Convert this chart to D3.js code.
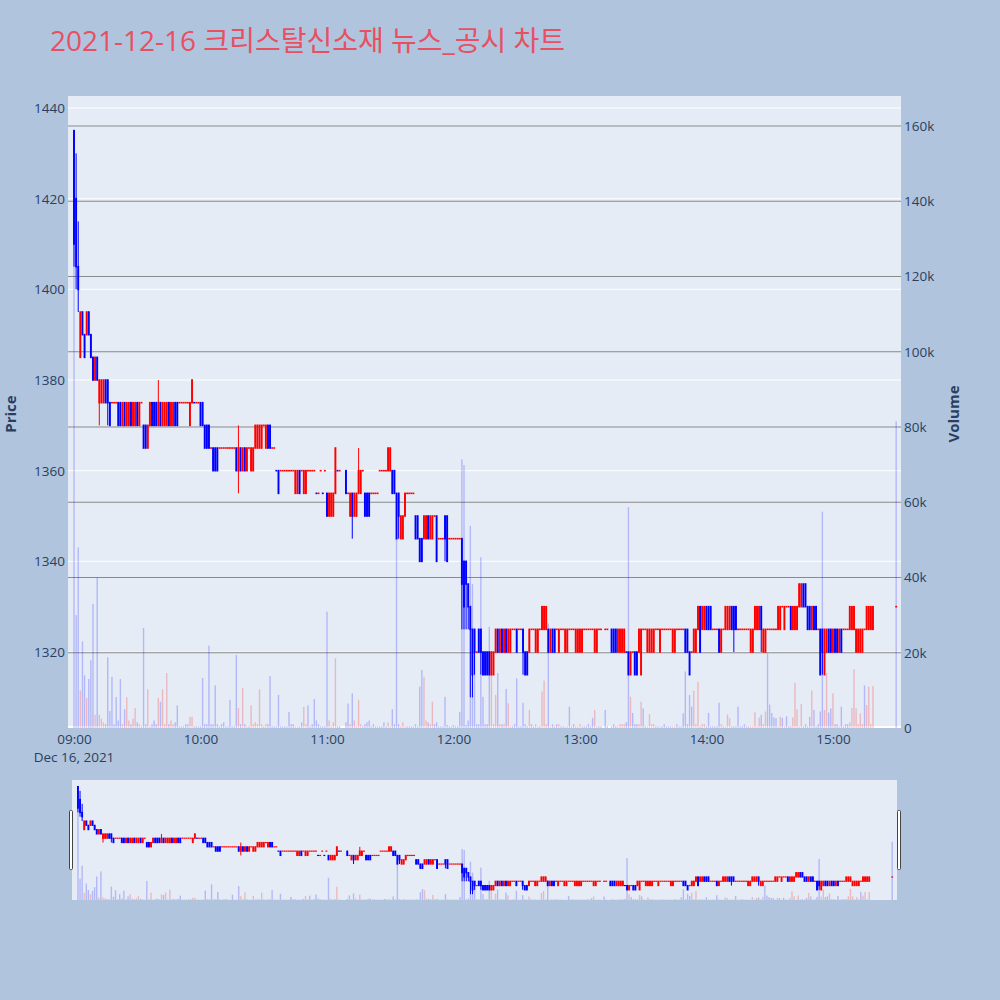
<!DOCTYPE html>
<html><head><meta charset="utf-8">
<script src="https://cdn.jsdelivr.net/npm/d3@7"></script>
<style>body{margin:0;background:#b0c4de;} svg{display:block;}</style>
</head><body>
<svg id="chart" width="1000" height="1000"></svg>
<script>
// minutes after 09:00 on 2021-12-16
const minutes = [
0,1,2,3,4,5,6,7,8,9,
10,11,12,13,14,15,16,17,18,19,
20,21,22,23,24,25,26,27,28,29,
30,31,32,33,34,35,36,37,38,39,
40,41,42,43,44,45,46,47,48,49,
50,51,52,53,54,55,56,57,58,59,
60,61,62,63,64,65,66,67,68,69,
70,71,72,73,74,75,76,77,78,79,
80,81,82,83,84,85,86,87,88,89,
90,91,92,93,94,95,96,97,98,99,
100,101,102,103,104,105,106,107,108,109,
110,111,112,113,114,115,116,117,118,119,
120,121,122,123,124,125,126,
129,130,131,132,133,134,135,136,137,138,
139,140,141,142,143,144,145,146,147,148,
149,150,151,152,153,154,155,156,157,158,
159,160,161,162,163,164,165,166,167,168,
169,170,171,172,173,174,175,176,177,178,
179,180,181,182,183,184,185,186,187,188,
189,190,191,192,193,194,195,196,197,198,
199,200,201,202,203,204,205,206,207,208,
209,210,211,212,213,214,215,216,217,218,
219,220,221,222,223,224,225,226,227,228,
229,230,231,232,233,234,235,236,237,238,
239,240,241,242,243,244,245,246,247,248,
249,250,252,253,255,256,257,258,259,260,
261,262,263,264,265,266,267,268,269,270,
271,272,273,274,275,276,277,278,279,280,
281,282,283,284,285,286,287,288,289,290,
291,292,293,294,295,296,297,298,299,300,
301,302,303,304,305,306,307,308,309,310,
311,312,313,314,315,316,317,318,319,320,
321,322,323,324,325,326,327,328,329,330,
331,332,333,334,335,336,337,338,339,340,
341,342,343,344,345,346,347,348,349,350,
351,352,353,354,355,356,357,358,359,360,
361,362,363,364,365,366,367,368,369,370,
371,372,373,374,375,376,377,378,379,390];

const openP = [
1435,1420,1405,1385,1395,1390,1390,1395,1390,1385,
1380,1385,1375,1375,1375,1380,1380,1375,1375,1375,
1375,1375,1375,1370,1375,1370,1370,1375,1370,1370,
1375,1370,1375,1370,1370,1365,1370,1375,1375,1375,
1370,1375,1370,1370,1370,1375,1370,1370,1375,1375,
1375,1375,1375,1375,1375,1370,1375,1375,1375,1375,
1375,1375,1370,1370,1370,1365,1365,1365,1365,1365,
1365,1365,1365,1365,1365,1365,1365,1365,1360,1365,
1360,1365,1360,1365,1360,1360,1365,1365,1365,1365,
1370,1365,1370,1370,1365,1365,1360,1360,1360,1360,
1360,1360,1360,1360,1360,1355,1355,1360,1360,1355,
1355,1360,1360,1360,1360,1355,1355,1360,1355,1360,
1355,1350,1350,1350,1355,1360,1360,
1360,1355,1350,1355,1350,1350,1355,1355,1360,1355,
1355,1355,1355,1355,1355,1355,1360,1360,1360,1360,
1360,1360,1360,1360,1355,1355,1345,1345,1350,1355,
1355,1355,1355,1350,1350,1345,1345,1345,1345,1350,
1345,1345,1350,1350,1345,1345,1345,1350,1350,1345,
1345,1345,1345,1345,1345,1345,1340,1340,1335,1330,
1325,1325,1320,1325,1325,1320,1320,1320,1320,1315,
1315,1320,1325,1320,1325,1320,1325,1320,1320,1325,
1325,1325,1325,1325,1325,1320,1320,1320,1325,1325,
1320,1320,1325,1325,1325,1325,1325,1320,1325,1325,
1325,1320,1325,1325,1320,1320,1325,1325,1325,1320,
1320,1320,1320,1325,1325,1325,1325,1325,1320,1320,
1325,1325,1325,1325,1325,1325,1325,1320,1320,1320,
1320,1320,1320,1315,1320,1320,1320,1320,1315,1325,
1325,1320,1320,1320,1320,1325,1325,1320,1325,1325,
1325,1325,1325,1320,1320,1325,1325,1325,1325,1325,
1325,1320,1320,1320,1320,1325,1330,1325,1325,1330,
1330,1330,1325,1325,1325,1325,1320,1325,1325,1325,
1325,1330,1330,1330,1325,1325,1325,1325,1325,1325,
1320,1320,1325,1325,1325,1330,1320,1320,1325,1325,
1325,1325,1325,1325,1325,1330,1325,1330,1330,1330,
1325,1325,1325,1330,1330,1335,1335,1330,1330,1325,
1330,1330,1325,1325,1325,1315,1320,1325,1325,1320,
1325,1325,1320,1325,1325,1325,1325,1325,1325,1325,
1320,1320,1320,1320,1325,1325,1325,1325,1325,1330];

const highP = [
1435,1430,1415,1395,1395,1390,1395,1395,1390,1385,
1385,1385,1380,1380,1380,1380,1380,1375,1375,1375,
1375,1375,1375,1375,1375,1375,1375,1375,1375,1375,
1375,1375,1375,1370,1370,1370,1375,1375,1375,1375,
1380,1375,1375,1375,1375,1375,1375,1375,1375,1375,
1375,1375,1375,1375,1375,1375,1380,1375,1375,1375,
1375,1375,1370,1370,1370,1365,1365,1365,1365,1365,
1365,1365,1365,1365,1365,1365,1365,1365,1370,1365,
1365,1365,1365,1365,1365,1365,1370,1370,1370,1370,
1370,1370,1370,1370,1365,1365,1360,1360,1360,1360,
1360,1360,1360,1360,1360,1360,1360,1360,1360,1360,
1360,1360,1360,1360,1360,1355,1355,1360,1355,1360,
1355,1355,1355,1355,1365,1360,1360,
1360,1355,1355,1355,1355,1355,1365,1360,1360,1355,
1355,1355,1355,1355,1355,1355,1360,1360,1360,1360,
1365,1365,1360,1360,1355,1355,1350,1350,1355,1355,
1355,1355,1355,1350,1350,1345,1345,1350,1350,1350,
1350,1350,1350,1350,1345,1345,1345,1350,1350,1345,
1345,1345,1345,1345,1345,1345,1340,1340,1335,1330,
1325,1325,1320,1325,1325,1320,1320,1320,1320,1320,
1320,1325,1325,1325,1325,1325,1325,1325,1325,1325,
1325,1325,1325,1325,1325,1320,1320,1325,1325,1325,
1325,1325,1325,1330,1330,1330,1325,1325,1325,1325,
1325,1325,1325,1325,1325,1325,1325,1325,1325,1325,
1325,1325,1325,1325,1325,1325,1325,1325,1325,1325,
1325,1325,1325,1325,1325,1325,1325,1325,1325,1325,
1325,1320,1320,1320,1320,1320,1320,1325,1325,1325,
1325,1325,1325,1325,1325,1325,1325,1325,1325,1325,
1325,1325,1325,1325,1325,1325,1325,1325,1325,1325,
1325,1320,1320,1325,1325,1330,1330,1330,1330,1330,
1330,1330,1325,1325,1325,1325,1325,1325,1330,1330,
1330,1330,1330,1330,1325,1325,1325,1325,1325,1325,
1325,1325,1330,1330,1330,1330,1325,1325,1325,1325,
1325,1325,1325,1330,1330,1330,1330,1330,1330,1330,
1330,1330,1330,1335,1335,1335,1335,1330,1330,1330,
1330,1330,1325,1325,1325,1325,1325,1325,1325,1325,
1325,1325,1325,1325,1325,1325,1325,1330,1330,1330,
1325,1325,1325,1325,1325,1330,1330,1330,1330,1330];

const lowP = [
1405,1400,1395,1385,1390,1385,1390,1390,1385,1380,
1380,1380,1370,1375,1375,1375,1370,1370,1375,1375,
1375,1370,1370,1370,1370,1370,1370,1370,1370,1370,
1370,1370,1375,1365,1365,1365,1370,1370,1370,1370,
1370,1370,1370,1370,1370,1370,1370,1370,1370,1370,
1375,1375,1375,1375,1375,1370,1375,1375,1375,1375,
1370,1370,1365,1365,1365,1365,1360,1360,1360,1365,
1365,1365,1365,1365,1365,1365,1365,1360,1355,1360,
1360,1360,1360,1365,1360,1360,1365,1365,1365,1365,
1370,1365,1365,1365,1365,1365,1360,1355,1360,1360,
1360,1360,1360,1360,1360,1355,1355,1355,1360,1355,
1355,1360,1360,1360,1360,1355,1355,1360,1355,1360,
1350,1350,1350,1350,1355,1360,1360,
1355,1355,1350,1345,1350,1350,1355,1355,1360,1350,
1350,1350,1355,1355,1355,1355,1360,1360,1360,1360,
1360,1360,1355,1355,1345,1345,1345,1345,1350,1355,
1355,1355,1355,1345,1345,1340,1340,1345,1345,1345,
1345,1345,1350,1340,1345,1345,1345,1340,1340,1345,
1345,1345,1345,1345,1345,1325,1325,1325,1325,1310,
1310,1315,1320,1320,1315,1315,1315,1315,1315,1315,
1315,1320,1320,1320,1320,1320,1320,1320,1320,1325,
1325,1320,1325,1325,1315,1315,1315,1320,1325,1325,
1320,1320,1325,1325,1325,1325,1320,1320,1320,1320,
1325,1320,1325,1325,1320,1320,1325,1325,1325,1320,
1320,1320,1320,1325,1325,1325,1325,1325,1320,1320,
1325,1325,1325,1325,1320,1320,1320,1320,1320,1320,
1320,1320,1315,1315,1320,1315,1315,1320,1315,1325,
1325,1320,1320,1320,1320,1325,1325,1320,1325,1325,
1325,1325,1325,1320,1320,1325,1325,1325,1325,1320,
1320,1315,1320,1320,1320,1325,1320,1325,1325,1325,
1325,1325,1325,1325,1325,1320,1320,1325,1325,1325,
1325,1325,1320,1325,1325,1325,1325,1325,1325,1325,
1320,1320,1325,1325,1325,1320,1320,1320,1325,1325,
1325,1325,1325,1325,1325,1330,1325,1330,1330,1325,
1325,1325,1325,1330,1330,1330,1330,1325,1325,1325,
1325,1325,1325,1315,1315,1315,1320,1320,1320,1320,
1320,1320,1320,1320,1325,1325,1325,1325,1325,1325,
1320,1320,1320,1320,1325,1325,1325,1325,1325,1330];

const closeP = [
1410,1405,1400,1395,1390,1385,1395,1390,1385,1380,
1385,1380,1380,1380,1380,1375,1375,1370,1375,1375,
1375,1370,1370,1375,1370,1375,1375,1370,1375,1375,
1370,1375,1375,1365,1365,1370,1375,1370,1370,1370,
1375,1370,1375,1375,1375,1370,1375,1375,1370,1370,
1375,1375,1375,1375,1375,1375,1380,1375,1375,1375,
1370,1370,1365,1365,1365,1365,1360,1360,1360,1365,
1365,1365,1365,1365,1365,1365,1365,1360,1365,1360,
1365,1360,1365,1365,1365,1365,1370,1370,1370,1370,
1370,1370,1365,1365,1365,1365,1360,1355,1360,1360,
1360,1360,1360,1360,1360,1360,1360,1355,1360,1360,
1360,1360,1360,1360,1360,1355,1355,1360,1355,1360,
1350,1355,1355,1355,1365,1360,1360,
1355,1355,1355,1350,1355,1355,1360,1360,1360,1350,
1350,1350,1355,1355,1355,1355,1360,1360,1360,1360,
1365,1365,1355,1355,1345,1350,1350,1350,1355,1355,
1355,1355,1355,1345,1345,1340,1340,1350,1350,1345,
1350,1350,1350,1340,1345,1345,1345,1345,1340,1345,
1345,1345,1345,1345,1345,1335,1330,1335,1330,1325,
1315,1320,1320,1320,1320,1315,1315,1315,1315,1320,
1320,1325,1320,1325,1320,1325,1320,1325,1325,1325,
1325,1320,1325,1325,1320,1315,1315,1325,1325,1325,
1325,1325,1325,1330,1330,1330,1320,1325,1320,1320,
1325,1325,1325,1325,1325,1325,1325,1325,1325,1325,
1325,1325,1325,1325,1325,1325,1325,1325,1325,1325,
1325,1325,1325,1325,1320,1320,1320,1325,1325,1325,
1325,1320,1315,1320,1320,1315,1315,1325,1325,1325,
1325,1325,1325,1325,1325,1325,1325,1325,1325,1325,
1325,1325,1325,1325,1325,1325,1325,1325,1325,1320,
1320,1315,1320,1325,1325,1330,1320,1330,1330,1325,
1325,1325,1325,1325,1325,1320,1325,1325,1330,1330,
1330,1325,1325,1325,1325,1325,1325,1325,1325,1325,
1325,1325,1330,1330,1330,1325,1325,1325,1325,1325,
1325,1325,1325,1330,1330,1330,1330,1330,1330,1325,
1330,1330,1330,1335,1335,1330,1330,1325,1325,1330,
1325,1325,1325,1315,1320,1325,1325,1320,1320,1325,
1320,1320,1325,1320,1325,1325,1325,1330,1330,1330,
1325,1325,1325,1325,1325,1330,1330,1330,1330,1330];

// volume in thousands of shares
const volumeK = [
159,30,48,10,23,14,8,13,18,33,
3.5,40,3.5,2.5,1.5,1,18.8,4.5,13.6,1,
8.2,2,13,1,5,8.2,2,1,2.5,5.3,
1.5,1,0.5,26.6,1,10.3,0.5,1,2,1,
8,7,10.3,1,14.6,1,2,1,1.5,6,
0.5,0.5,0.5,1,1,3,3,0.5,0.5,0.5,
0.5,13.3,1,1,21.9,1,1,11.3,1,0.5,
1,1.5,0.5,0.5,7.5,0.5,0.5,19.4,5.3,1,
10.7,1,0.5,0.5,6,1,1.5,1,10.3,1,
0.5,1,1,13.8,0.5,0.5,0.5,8.8,0.5,0.5,
0.5,0.5,4.3,1,1,0.5,0.5,0.5,1.5,5.6,
1,6,0.5,1,7.7,2,1,0.5,0.5,0.5,
30.9,2,0.5,1.5,18.5,0.5,0.5,
1.5,6.5,1,9.2,2,0.5,7.5,1,0.5,1,
1.5,2,0.5,1,0.5,0.5,0.5,0.5,1.5,0.5,
1.5,0.5,5,1,50.4,1,0.5,1.5,0.5,0.5,
0.5,0.5,0.5,1,0.5,11,15.4,13.6,2,1.5,
1,7,1,1.5,0.5,0.5,0.5,8.3,0.8,0.5,
0.5,0.8,0.5,0.5,4.3,71.4,69.9,0.8,2,53.7,
38.3,20.7,1,1,45.4,8.3,1,1,26.9,15,
1,8.8,14.6,1,1,1,10.4,6.6,0.5,0.5,
1,13.2,0.5,0.5,6.7,1,0.5,4.8,1,0.5,
1,0.5,0.5,9.7,12.6,1,27.8,0.5,1,0.5,
1,1,0.5,0.5,0.5,0.5,5.7,0.5,1,0.5,
0.5,1,0.5,0.5,0.5,1,0.5,2.7,4.8,0.5,
0.5,0.5,4.8,0.5,0.5,1,0.5,0.5,1,1,
1,1.5,58.7,8.3,4,1,1,1,7,5.2,
0.5,0.5,3.7,1,1,0.5,0.5,0.5,0.5,1,
0.5,0.5,0.5,0.5,0.5,1,0.5,0.5,3.9,15,
1,8.8,5.7,9.9,1,12.3,0.5,1,1,0.5,
4,0.5,0.5,0.5,0.5,6.7,1,0.5,0.5,3.6,
2.6,0.5,0.5,0.5,5.7,0.5,0.5,1,0.5,0.5,
0.5,0.5,4.2,0.5,2.8,3.5,1,4.4,19.9,6.2,
4,2.8,2.6,0.5,3,2.7,0.5,3.1,0.5,0.5,
2.8,12,5,0.5,6.4,0.5,1,0.5,3,10,
4.8,0.5,1,4.4,57.5,4.8,14.6,4.1,5.2,9.2,
1,1,0.5,5.7,0.5,1,1,1.5,5.3,15.6,
5.2,1,3.9,1,11.3,6.1,11,1,11.2,81.5];

const priceTicks = [1320,1340,1360,1380,1400,1420,1440];
const volumeTicks = [0,20,40,60,80,100,120,140,160];
const timeTicks = [0,60,120,180,240,300,360];
const timeTickLabels = ["09:00","10:00","11:00","12:00","13:00","14:00","15:00"];
const dateLabel = "Dec 16, 2021";
const titleText = "2021-12-16 크리스탈신소재 뉴스_공시 차트";

const FONT = "'Open Sans', 'Noto Sans CJK KR', verdana, arial, sans-serif";
const AXC = "#2a3f5f";
const UP = "#ff0000", DOWN = "#0000ff";
const TICKFS = "13.5px";

const svg = d3.select("#chart");
svg.append("rect").attr("width",1000).attr("height",1000).attr("fill","#b0c4de");

// candle direction (doji follows previous close)
let prevC = null;
const inc = closeP.map((c,i)=>{
  const o = openP[i]; let r;
  if (c > o) r = true; else if (c < o) r = false; else r = prevC === null ? false : c >= prevC;
  prevC = c; return r;
});
// volume colour: red only when close is above open
const volUp = closeP.map((c,i)=> c > openP[i]);
const idx = d3.range(minutes.length);

// ---------- main plot ----------
const P = {l:68, r:901, t:96, b:728};
const x = d3.scaleLinear().domain([-2.85, 392.3]).range([P.l, P.r]);
const yP = d3.scaleLinear().domain([1303.24, 1442.65]).range([P.b, P.t]);
const yV = d3.scaleLinear().domain([0, 167.97]).range([P.b, P.t]);

svg.append("rect").attr("x",P.l).attr("y",P.t).attr("width",P.r-P.l).attr("height",P.b-P.t).attr("fill","#e5ecf6");
const defs = svg.append("defs");
defs.append("clipPath").attr("id","clipMain").append("rect")
  .attr("x",P.l).attr("y",P.t).attr("width",P.r-P.l).attr("height",P.b-P.t);

const grid = svg.append("g");
grid.selectAll(".pg").data(priceTicks).join("line")
  .attr("x1",P.l).attr("x2",P.r).attr("y1",d=>yP(d)).attr("y2",d=>yP(d))
  .attr("stroke","#ffffff").attr("stroke-width",1);
grid.selectAll(".vg").data(volumeTicks.filter(d=>d>0)).join("line")
  .attr("x1",P.l).attr("x2",P.r).attr("y1",d=>yV(d)).attr("y2",d=>yV(d))
  .attr("stroke","#8a8a8a").attr("stroke-width",1);
grid.append("line").attr("x1",P.l).attr("x2",P.r).attr("y1",yV(0)-1).attr("y2",yV(0)-1)
  .attr("stroke","#ffffff").attr("stroke-width",2);

function drawTraces(g, xs, yp, yv, boxW, volW, minH){
  g.selectAll(".vol").data(idx).join("rect")
    .attr("x",i=>xs(minutes[i])-volW/2).attr("width",volW)
    .attr("y",i=>yv(volumeK[i])).attr("height",i=>yv(0)-yv(volumeK[i]))
    .attr("fill",i=>volUp[i]?"rgba(255,0,0,0.22)":"rgba(0,0,255,0.22)");
  g.selectAll(".wick").data(idx).join("line")
    .attr("x1",i=>xs(minutes[i])).attr("x2",i=>xs(minutes[i]))
    .attr("y1",i=>yp(highP[i])).attr("y2",i=>yp(lowP[i]))
    .attr("stroke",i=>inc[i]?UP:DOWN).attr("stroke-width",1);
  g.selectAll(".box").data(idx).join("rect")
    .attr("x",i=>xs(minutes[i])-boxW/2).attr("width",boxW)
    .attr("y",i=>yp(Math.max(openP[i],closeP[i]))-minH/2)
    .attr("height",i=>yp(Math.min(openP[i],closeP[i]))-yp(Math.max(openP[i],closeP[i]))+minH)
    .attr("fill",i=>inc[i]?UP:DOWN);
}
const traces = svg.append("g").attr("clip-path","url(#clipMain)");
drawTraces(traces, x, yP, yV, 1.9, 1.4, 1.6);

// axes
const axL = svg.append("g").attr("transform",`translate(${P.l},0)`)
  .call(d3.axisLeft(yP).tickValues(priceTicks).tickSize(0).tickPadding(3).tickFormat(d3.format("d")));
const axR = svg.append("g").attr("transform",`translate(${P.r},0)`)
  .call(d3.axisRight(yV).tickValues(volumeTicks).tickSize(0).tickPadding(3)
    .tickFormat(d=>d===0?"0":d+"k"));
const axB = svg.append("g").attr("transform",`translate(0,${P.b})`)
  .call(d3.axisBottom(x).tickValues(timeTicks).tickSize(0).tickPadding(6)
    .tickFormat((d,i)=>timeTickLabels[i]));
[axL,axR,axB].forEach(a=>{
  a.select(".domain").remove();
  a.selectAll("text").attr("fill",AXC).style("font-family",FONT).style("font-size",TICKFS);
});
svg.append("text").attr("x",x(0)).attr("y",762).attr("text-anchor","middle")
  .attr("fill",AXC).style("font-family",FONT).style("font-size",TICKFS).text(dateLabel);

svg.append("text").attr("transform","translate(16,414) rotate(-90)").attr("text-anchor","middle")
  .attr("fill",AXC).style("font-family",FONT).style("font-size","15px").style("font-weight","bold").text("Price");
svg.append("text").attr("transform","translate(959,414) rotate(-90)").attr("text-anchor","middle")
  .attr("fill",AXC).style("font-family",FONT).style("font-size","15px").style("font-weight","bold").text("Volume");

svg.append("text").attr("x",50).attr("y",51)
  .attr("fill","rgb(232,80,98)").style("font-family",FONT).style("font-size","28px").text(titleText);

// ---------- range slider ----------
const S = {l:72, r:897, t:780, b:900};
const xs = d3.scaleLinear().domain(x.domain()).range([S.l, S.r]);
const ysP = d3.scaleLinear().domain(yP.domain()).range([S.b, S.t]);
const ysV = d3.scaleLinear().domain(yV.domain()).range([S.b, S.t]);
svg.append("rect").attr("x",S.l).attr("y",S.t).attr("width",S.r-S.l).attr("height",S.b-S.t).attr("fill","#e5ecf6");
defs.append("clipPath").attr("id","clipS").append("rect")
  .attr("x",S.l).attr("y",S.t).attr("width",S.r-S.l).attr("height",S.b-S.t);
const sTr = svg.append("g").attr("clip-path","url(#clipS)");
drawTraces(sTr, xs, ysP, ysV, 1.9, 1.4, 1.2);
[S.l-2.5, S.r+0.5].forEach(hx=>{
  svg.append("rect").attr("x",hx).attr("y",810.5).attr("width",3).attr("height",59)
    .attr("rx",1).attr("fill","#ffffff").attr("stroke","#444").attr("stroke-width",1);
});
</script>
</body></html>
